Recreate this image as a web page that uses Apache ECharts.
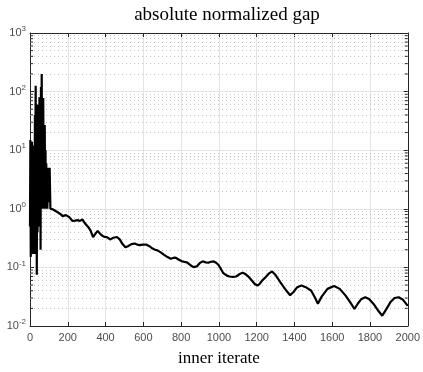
<!DOCTYPE html>
<html><head><meta charset="utf-8">
<script src="https://cdn.jsdelivr.net/npm/echarts@6/dist/echarts.min.js"></script>
<style>html,body{margin:0;padding:0;background:#fff}#c{width:423px;height:372px}</style>
</head><body><div id="c"></div>
<script>
// Data
const titleText = 'absolute normalized gap';
const xLabelText = 'inner iterate';
const xTicks = [0, 200, 400, 600, 800, 1000, 1200, 1400, 1600, 1800, 2000];
const yDecades = [0.01, 0.1, 1, 10, 100, 1000];
const iters = [0,2,4,6,8,10,12,14,16,18,20,22,24,26,28,30,32,34,36,38,40,42,44,46,48,50,52,54,56,58,60,62,64,66,68,70,72,74,76,78,80,82,84,86,88,90,92,96,100,104,108,112,
 120,130,140,147,160,173,190,208,225,240,251,265,277,294,310,320,334,345,358,370,381,395,407,424,441,460,475,490,505,519,537,554,567,580,597,615,632,649,662,675,692,710,728,745,758,771,788,805,818,831,848,866,876,883,898,914,930,944,958,973,985,996,1010,1022,1040,1056,1075,1091,1110,1126,1140,1152,1170,1190,1204,1215,1230,1247,1265,1282,1300,1325,1350,1377,1395,1415,1437,1460,1489,1510,1524,1545,1575,1610,1640,1671,1700,1718,1735,1755,1775,1795,1818,1845,1865,1885,1910,1930,1952,1975,2000];
const gaps = [0.5,15,0.15,9,0.3,14,0.2,4,0.17,12,0.5,8,0.17,40,2,126,3,20,0.075,18,0.4,60,1.5,30,0.5,80,0.6,25,0.2,120,2,200,5,40,1.0,78,3,20,1.0,27,2,10,1.0,6,1.2,4,1.0,5,1.3,5,1.0,1.05,
 0.98,0.99,0.9,0.91,0.82,0.75,0.78,0.72,0.62,0.63,0.64,0.62,0.66,0.55,0.48,0.43,0.33,0.37,0.42,0.38,0.35,0.33,0.33,0.30,0.32,0.33,0.30,0.25,0.22,0.23,0.25,0.255,0.245,0.24,0.245,0.245,0.23,0.21,0.2,0.195,0.18,0.164,0.15,0.14,0.145,0.147,0.135,0.127,0.124,0.122,0.11,0.101,0.1,0.104,0.118,0.127,0.122,0.12,0.125,0.127,0.12,0.112,0.095,0.081,0.073,0.07,0.069,0.07,0.077,0.081,0.077,0.072,0.062,0.052,0.049,0.052,0.06,0.068,0.079,0.085,0.074,0.056,0.043,0.0335,0.038,0.046,0.049,0.046,0.04,0.03,0.024,0.032,0.043,0.048,0.043,0.033,0.024,0.0195,0.024,0.029,0.031,0.029,0.024,0.018,0.015,0.019,0.026,0.03,0.031,0.028,0.022];

const minorVals = [];
for (let k = -2; k <= 2; k++) for (let m = 2; m <= 9; m++) minorVals.push(m * Math.pow(10, k));

const chart = echarts.init(document.getElementById('c'));
const gridCol = '#e3e3e3';
const tickCol = '#262626';
const labelCol = '#4d4d4d';
chart.setOption({
  animation: false,
  title: {
    text: titleText, left: 222, top: 1, textAlign: 'center',
    textStyle: {fontFamily: 'Liberation Serif', fontWeight: 'normal', fontSize: 19, color: '#000'}
  },
  grid: {left: 30, right: 8, top: 33, bottom: 37, containLabel: false},
  xAxis: [{
    type: 'value', min: 0, max: 2000, interval: 200,
    name: xLabelText, nameLocation: 'middle', nameGap: 24,
    nameTextStyle: {fontFamily: 'Liberation Serif', fontSize: 17, color: '#000'},
    axisLine: {show: true, lineStyle: {color: tickCol, width: 1}},
    axisTick: {show: true, inside: true, length: 4, lineStyle: {color: tickCol}},
    axisLabel: {color: labelCol, fontFamily: 'Liberation Sans', fontSize: 11, margin: 6, formatter: v => String(v)},
    splitLine: {show: true, lineStyle: {color: gridCol, width: 1}}
  }, {
    type: 'value', min: 0, max: 2000, interval: 200, position: 'top',
    axisLine: {show: true, onZero: false, lineStyle: {color: tickCol, width: 1}},
    axisTick: {show: true, inside: true, length: 4, lineStyle: {color: tickCol}},
    axisLabel: {show: false}, splitLine: {show: false}
  }],
  yAxis: [{
    type: 'log', logBase: 10, min: 0.01, max: 1000,
    axisLine: {show: true, onZero: false, lineStyle: {color: tickCol, width: 1}},
    axisTick: {show: true, inside: true, length: 4, lineStyle: {color: tickCol}},
    axisLabel: {
      margin: 4,
      formatter: v => '{b|10}{s|' + Math.round(Math.log10(v)) + '}',
      rich: {
        b: {color: labelCol, fontFamily: 'Liberation Sans', fontSize: 11},
        s: {color: labelCol, fontFamily: 'Liberation Sans', fontSize: 8, padding: [0, 0, 8, 0]}
      }
    },
    splitLine: {show: true, lineStyle: {color: gridCol, width: 1}}
  }, {
    type: 'log', logBase: 10, min: 0.01, max: 1000, position: 'right',
    axisLine: {show: true, onZero: false, lineStyle: {color: tickCol, width: 1}},
    axisTick: {show: true, inside: true, length: 4, lineStyle: {color: tickCol}},
    axisLabel: {show: false}, splitLine: {show: false}
  }],
  series: [{
    type: 'line', silent: true, symbol: 'none',
    data: [], z: 1,
    markLine: {
      silent: true, symbol: ['none', 'none'], label: {show: false},
      lineStyle: {color: '#c4c4c4', type: [1, 3], width: 1},
      data: minorVals.map(v => ({yAxis: v}))
    }
  }, {
    type: 'custom', silent: true, z: 5,
    data: minorVals.map(v => [v]),
    renderItem: (params, api) => {
      const pL = api.coord([0, api.value(0)]);
      const pR = api.coord([2000, api.value(0)]);
      return {type: 'group', children: [
        {type: 'line', shape: {x1: pL[0], y1: pL[1], x2: pL[0] + 3, y2: pL[1]}, style: {stroke: tickCol, lineWidth: 1}},
        {type: 'line', shape: {x1: pR[0], y1: pR[1], x2: pR[0] - 3, y2: pR[1]}, style: {stroke: tickCol, lineWidth: 1}}
      ]};
    },
    encode: {y: 0}
  }, {
    type: 'line', symbol: 'none', z: 10,
    data: iters.map((x, i) => [x, gaps[i]]),
    lineStyle: {color: '#000', width: 2.2}
  }]
});
</script></body></html>
